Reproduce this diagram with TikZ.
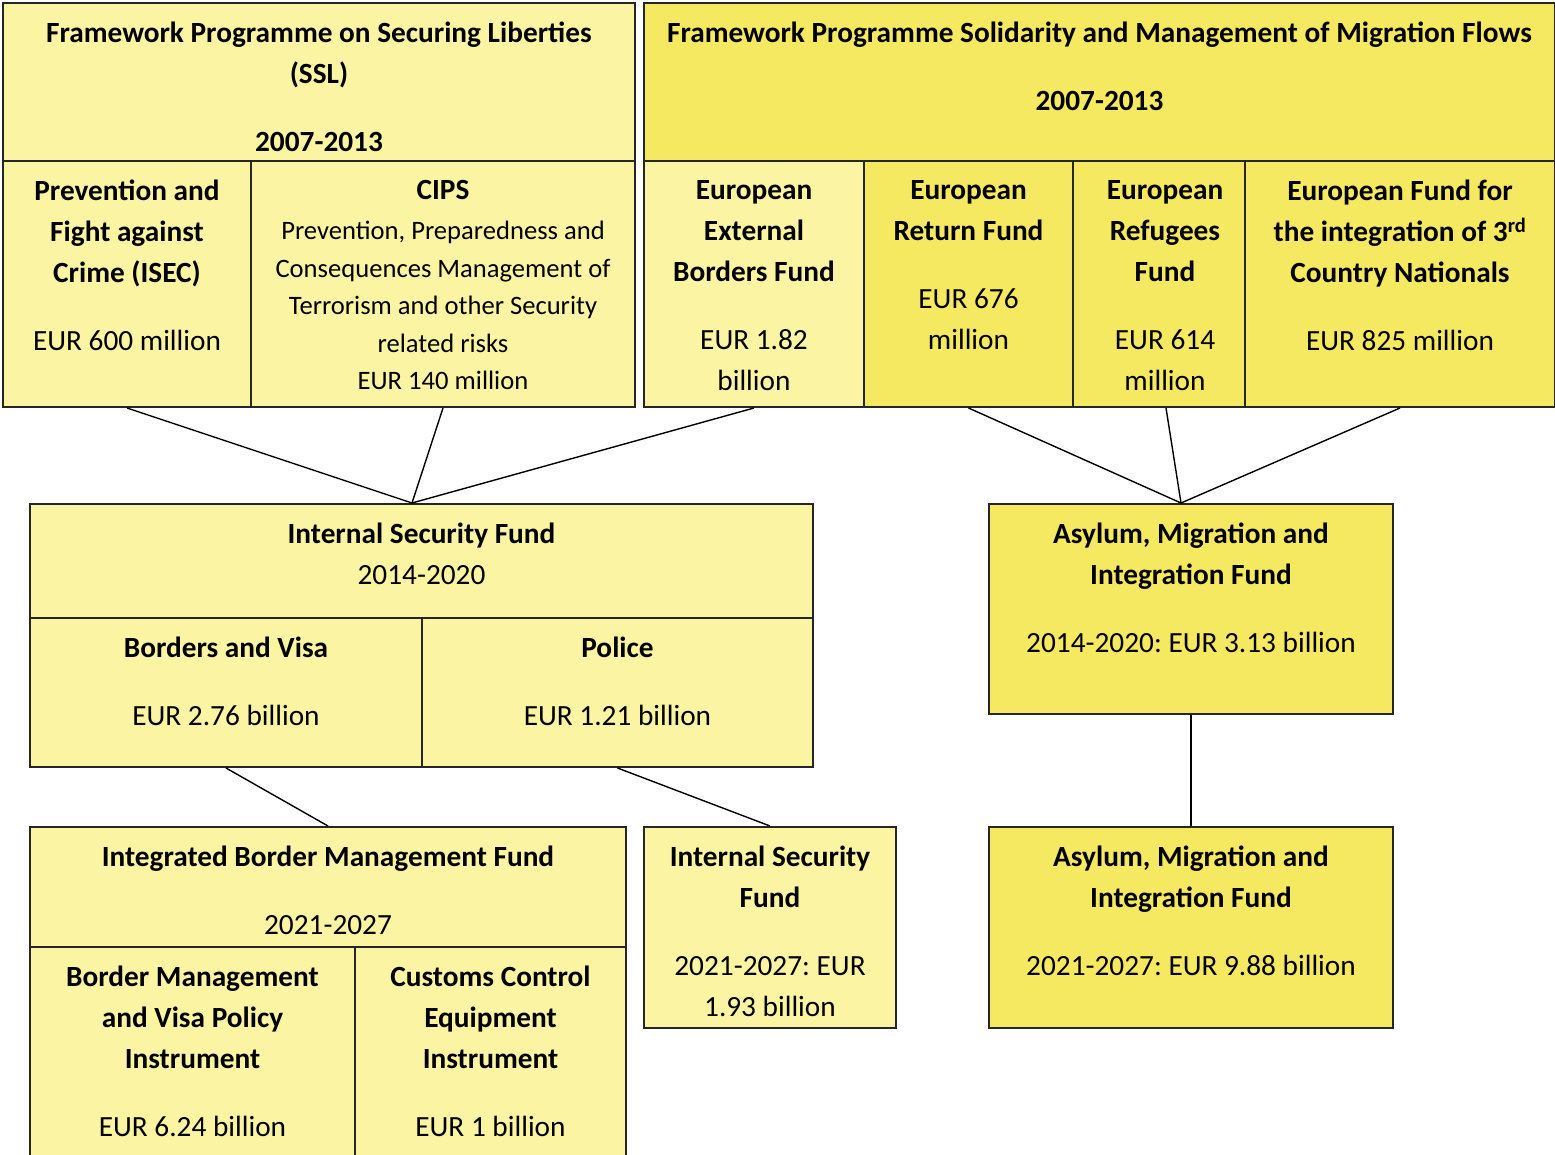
\documentclass[tikz,border=0pt]{standalone}
\usepackage{fontspec}
\setmainfont{Carlito}
\usetikzlibrary{positioning}
\definecolor{lightyel}{RGB}{251,245,163}
\definecolor{darkyel}{RGB}{246,233,98}
\frenchspacing

\begin{document}
\begin{tikzpicture}[x=1pt, y=-1pt,
lbox/.style={draw=black!85, line width=2pt, fill=lightyel, anchor=north west, inner sep=0pt},
dbox/.style={lbox, fill=darkyel},
txt/.style={anchor=north, align=center, inner sep=0pt, font=\fontsize{29.3}{41}\selectfont},
smalltxt/.style={txt, font=\fontsize{26.6}{37.5}\selectfont},
link/.style={draw=black, line width=1.4pt}]
\clip (0,0) rectangle (1555,1155);
\fill[white] (0,0) rectangle (1555,1155);

% 2007-2013 programmes
\node[lbox, minimum width=632, minimum height=158] (ssl) at (2,2) {};
\node[dbox, minimum width=911, minimum height=158] (smmf) at (643,2) {};
\node[lbox, minimum width=248, minimum height=246] (isec) at (2,160) {};
\node[lbox, minimum width=384, minimum height=246] (cips) at (250,160) {};
\node[lbox, minimum width=220, minimum height=246] (eebf) at (643,160) {};
\node[dbox, minimum width=209, minimum height=246] (erf) at (863,160) {};
\node[dbox, minimum width=172, minimum height=246] (reff) at (1072,160) {};
\node[dbox, minimum width=310, minimum height=246] (efi) at (1244,160) {};

\node[txt, below=20pt of ssl.north] (sslt) {\textbf{Framework Programme on Securing Liberties}\\ \textbf{(SSL)}\\[27pt] \textbf{2007-2013}};
\node[txt, below=20pt of smmf.north] (smmft) {\textbf{Framework Programme Solidarity and Management of Migration Flows}\\[27pt] \textbf{2007-2013}};
\node[txt, below=20pt of isec.north] (isect) {\textbf{Prevention and}\\ \textbf{Fight against}\\ \textbf{Crime (ISEC)}\\[27pt] EUR 600 million};
\node[txt, below=20pt of cips.north] (cipst) {\textbf{CIPS}};
\node[smalltxt, below=61pt of cips.north] (cipsd) {Prevention, Preparedness and\\ Consequences Management of\\ Terrorism and other Security\\ related risks\\ EUR 140 million};
\node[txt, below=20pt of eebf.north] (eebft) {\textbf{European}\\ \textbf{External}\\ \textbf{Borders Fund}\\[27pt] EUR 1.82\\ billion};
\node[txt, below=20pt of erf.north] (erft) {\textbf{European}\\ \textbf{Return Fund}\\[27pt] EUR 676\\ million};
\node[txt, below=20pt of reff.north, xshift=6pt] (refft) {\textbf{European}\\ \textbf{Refugees}\\ \textbf{Fund}\\[27pt] EUR 614\\ million};
\node[txt, below=20pt of efi.north] (efit) {\textbf{European Fund for}\\ \textbf{the integration of 3\textsuperscript{rd}}\\ \textbf{Country Nationals}\\[27pt] EUR 825 million};

% 2014-2020 funds
\node[lbox, minimum width=783, minimum height=114] (isf) at (29,503) {};
\node[lbox, minimum width=392, minimum height=149] (bav) at (29,617) {};
\node[lbox, minimum width=391, minimum height=149] (pol) at (421,617) {};
\node[dbox, minimum width=404, minimum height=210] (amif) at (988,503) {};

\node[txt, below=20pt of isf.north] (isft) {\textbf{Internal Security Fund}\\ 2014-2020};
\node[txt, below=20pt of bav.north] (bavt) {\textbf{Borders and Visa}\\[27pt] EUR 2.76 billion};
\node[txt, below=20pt of pol.north] (polt) {\textbf{Police}\\[27pt] EUR 1.21 billion};
\node[txt, below=20pt of amif.north] (amift) {\textbf{Asylum, Migration and}\\ \textbf{Integration Fund}\\[27pt] 2014-2020: EUR 3.13 billion};

% 2021-2027 funds
\node[lbox, minimum width=596, minimum height=120] (ibmf) at (29,826) {};
\node[lbox, minimum width=325, minimum height=220] (bmvi) at (29,946) {};
\node[lbox, minimum width=271, minimum height=220] (ccei) at (354,946) {};
\node[lbox, minimum width=252, minimum height=201] (isfn) at (643,826) {};
\node[dbox, minimum width=404, minimum height=201] (amifn) at (988,826) {};

\node[txt, below=20pt of ibmf.north] (ibmft) {\textbf{Integrated Border Management Fund}\\[27pt] 2021-2027};
\node[txt, below=20pt of bmvi.north] (bmvit) {\textbf{Border Management}\\ \textbf{and Visa Policy}\\ \textbf{Instrument}\\[27pt] EUR 6.24 billion};
\node[txt, below=20pt of ccei.north] (cceit) {\textbf{Customs Control}\\ \textbf{Equipment}\\ \textbf{Instrument}\\[27pt] EUR 1 billion};
\node[txt, below=20pt of isfn.north] (isfnt) {\textbf{Internal Security}\\ \textbf{Fund}\\[27pt] 2021-2027: EUR\\ 1.93 billion};
\node[txt, below=20pt of amifn.north] (amifnt) {\textbf{Asylum, Migration and}\\ \textbf{Integration Fund}\\[27pt] 2021-2027: EUR 9.88 billion};

% links
\coordinate (isfin) at (412,503);
\coordinate (amifin) at (1181,503);
\draw[link] (isec.south) -- (isfin);
\draw[link] (cips.south) -- (isfin);
\draw[link] (eebf.south) -- (isfin);
\draw[link] (erf.south) -- (amifin);
\draw[link] ([xshift=7pt]reff.south) -- (amifin);
\draw[link] (efi.south) -- (amifin);
\draw[link] (bav.south) -- (ibmf.north);
\draw[link] (pol.south) -- (isfn.north);
\draw[link] (amif.south) -- (amifn.north);
\end{tikzpicture}
\end{document}
